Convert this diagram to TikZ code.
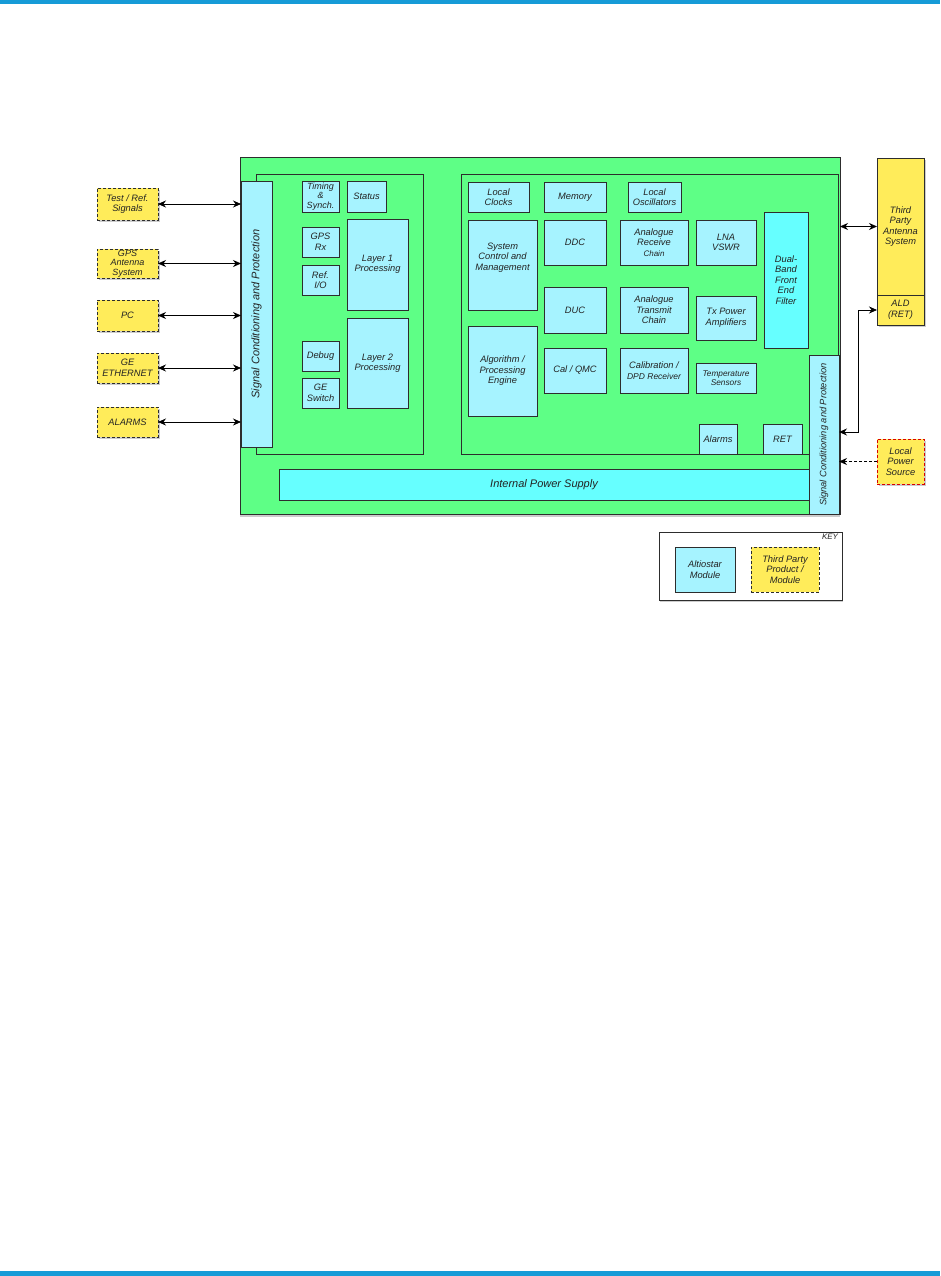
\documentclass[tikz,border=0pt]{standalone}
\usepackage{fontspec}
\setmainfont{Liberation Sans}
\usetikzlibrary{arrows.meta,shadows}
\definecolor{pgreen}{RGB}{94,255,134}
\definecolor{modcyan}{RGB}{166,243,255}
\definecolor{brcyan}{RGB}{102,255,255}
\definecolor{tpyellow}{RGB}{255,236,90}
\definecolor{topblue}{RGB}{22,155,215}
\definecolor{txt}{RGB}{35,35,35}
\definecolor{edge}{RGB}{45,45,45}
\newcommand{\mybox}[7]{\node[#1, minimum width={#5pt-#3pt}, minimum height={#6pt-#4pt}] (#2) at ({(#3+#5)/2},{(#4+#6)/2}) {#7};}
\tikzset{
  base/.style={draw=edge, line width=0.8pt, inner sep=1pt, outer sep=0pt, align=center, text=txt,
    font=\fontsize{9.3}{10.5}\selectfont\itshape},
  mod/.style={base, fill=modcyan},
  brmod/.style={base, fill=brcyan},
  tp/.style={base, fill=tpyellow, dashed, dash pattern=on 3pt off 2pt,
    drop shadow={shadow xshift=1.5pt, shadow yshift=-2pt, opacity=0.4}},
  tpsolid/.style={base, fill=tpyellow},
  frame/.style={base, fill=none},
  arr/.style={{Stealth[length=8pt,width=7pt]}-{Stealth[length=8pt,width=7pt]}, line width=0.8pt, draw=black},
  arrone/.style={-{Stealth[length=8pt,width=7pt]}, line width=0.8pt, draw=black, dashed, dash pattern=on 3pt off 2pt},
  small/.style={font=\fontsize{8.3}{9.3}\selectfont\itshape},
  tight/.style={font=\fontsize{9}{9.3}\selectfont\itshape},
}
\begin{document}
\begin{tikzpicture}[x=1pt,y=-1pt]
\useasboundingbox (0,0) rectangle (940,1276);
\fill[white] (0,0) rectangle (940,1276);
\fill[topblue] (0,0) rectangle (940,4.5);
\fill[topblue] (0,1271) rectangle (940,1276);

% main green box
\mybox{base, fill=pgreen, drop shadow={shadow xshift=0pt, shadow yshift=-2.5pt, opacity=0.4}}{main}{240}{157}{840}{514}{}
% inner frames
\mybox{frame}{inl}{256}{174}{423}{454}{}
\mybox{frame}{inr}{461}{174}{838}{454}{}

% left signal conditioning bar
\mybox{mod}{sigL}{241}{181}{272}{447}{}
\node[base, draw=none, rotate=90, font=\fontsize{11}{12}\selectfont\itshape] (sigLt) at (sigL.center) {Signal Conditioning and Protection};

% left block modules
\mybox{mod, tight}{timing}{302}{181}{339}{212}{Timing\\\&\\Synch.}
\mybox{mod}{status}{347}{181}{386}{212}{Status}
\mybox{mod}{gpsrx}{302}{227}{339}{257}{GPS\\Rx}
\mybox{mod}{refio}{302}{265}{339}{295}{Ref.\\I/O}
\mybox{mod}{layer1}{347}{219}{408}{310}{Layer 1\\Processing}
\mybox{mod}{debug}{302}{341}{339}{371}{Debug}
\mybox{mod}{geswitch}{302}{378}{339}{408}{GE\\Switch}
\mybox{mod}{layer2}{347}{318}{408}{408}{Layer 2\\Processing}

% right block modules
\mybox{mod}{clocks}{468}{182}{529}{212}{Local\\Clocks}
\mybox{mod}{memory}{544}{182}{606}{212}{Memory}
\mybox{mod}{osc}{628}{182}{681}{212}{Local\\Oscillators}
\mybox{mod}{sysctrl}{468}{220}{537}{310}{System\\Control and\\Management\\[6pt]}
\mybox{mod}{algo}{468}{326}{537}{416}{Algorithm /\\Processing\\Engine}
\mybox{mod}{ddc}{544}{220}{606}{265}{DDC}
\mybox{mod}{duc}{544}{287}{606}{333}{DUC}
\mybox{mod}{calqmc}{544}{348}{606}{393}{Cal / QMC}
\mybox{mod}{anarx}{620}{220}{688}{265}{Analogue\\Receive\\{\fontsize{8}{9}\selectfont Chain}}
\mybox{mod}{anatx}{620}{287}{688}{333}{Analogue\\Transmit\\Chain}
\mybox{mod}{calib}{620}{348}{688}{393}{Calibration /\\{\fontsize{8.5}{9.5}\selectfont DPD Receiver}}
\mybox{mod}{lna}{696}{220}{756}{265}{LNA\\VSWR}
\mybox{mod}{txpa}{696}{296}{756}{340}{Tx Power\\Amplifiers}
\mybox{mod, small}{temp}{696}{363}{756}{393}{Temperature\\Sensors}
\mybox{brmod}{dual}{764}{212}{808}{348}{Dual-\\Band\\Front\\End\\Filter}
\mybox{mod}{alarmsm}{699}{424}{737}{454}{Alarms}
\mybox{mod}{retm}{763}{424}{802}{454}{RET}

% internal power supply
\mybox{brmod, font=\fontsize{11}{12}\selectfont\itshape}{psu}{279}{469}{809}{500}{Internal Power Supply}

% right signal conditioning bar
\mybox{mod}{sigR}{809}{355}{839}{514}{}
\node[base, draw=none, rotate=90] (sigRt) at (sigR.center) {Signal Conditioning and Protection};

% left third-party boxes
\mybox{tp}{test}{97}{188}{158}{220}{Test / Ref.\\Signals}
\mybox{tp, tight}{gps}{97}{249}{158}{278}{GPS\\Antenna\\System}
\mybox{tp}{pc}{97}{300}{158}{331}{PC}
\mybox{tp}{ge}{97}{353}{158}{383}{GE\\ETHERNET}
\mybox{tp}{alarms}{97}{407}{158}{437}{ALARMS}

% right third-party boxes
\mybox{tpsolid, drop shadow={shadow xshift=1.5pt, shadow yshift=-2pt, opacity=0.4}}{antsh}{877}{158}{924}{325}{}
\mybox{tpsolid}{ant}{877}{158}{924}{295}{Third\\Party\\Antenna\\System}
\mybox{tpsolid}{ald}{877}{295}{924}{325}{ALD\\(RET)}
\mybox{tp, draw=red!85!black}{lps}{877}{439}{924}{484}{Local\\Power\\Source}

% key
\mybox{base, fill=white, drop shadow={shadow xshift=1pt, shadow yshift=-2pt, opacity=0.4}}{key}{659}{532}{842}{600}{}
\node[base, draw=none, anchor=north east, font=\fontsize{8}{9}\selectfont\itshape] (keyt) at ([xshift=-3pt,yshift=-1pt]key.north east) {KEY};
\mybox{mod}{keymod}{675}{547}{735}{592}{Altiostar\\Module}
\mybox{base, fill=tpyellow, dashed, dash pattern=on 3pt off 2pt}{keytp}{751}{547}{819}{592}{Third Party\\Product /\\Module}

% connectors
\draw[arr] (test.east) -- (test.east -| sigL.west);
\draw[arr] (gps.east) -- (gps.east -| sigL.west);
\draw[arr] (pc.east) -- (pc.east -| sigL.west);
\draw[arr] (ge.east) -- (ge.east -| sigL.west);
\draw[arr] (alarms.east) -- (alarms.east -| sigL.west);
\draw[arr] (ant.west) -- (ant.west -| main.east);
\coordinate (aldbend) at (858,432);
\draw[arr] (ald.west) -| (aldbend) -- (aldbend -| sigR.east);
\draw[arrone] (lps.west) -- (lps.west -| sigR.east);
\end{tikzpicture}
\end{document}
